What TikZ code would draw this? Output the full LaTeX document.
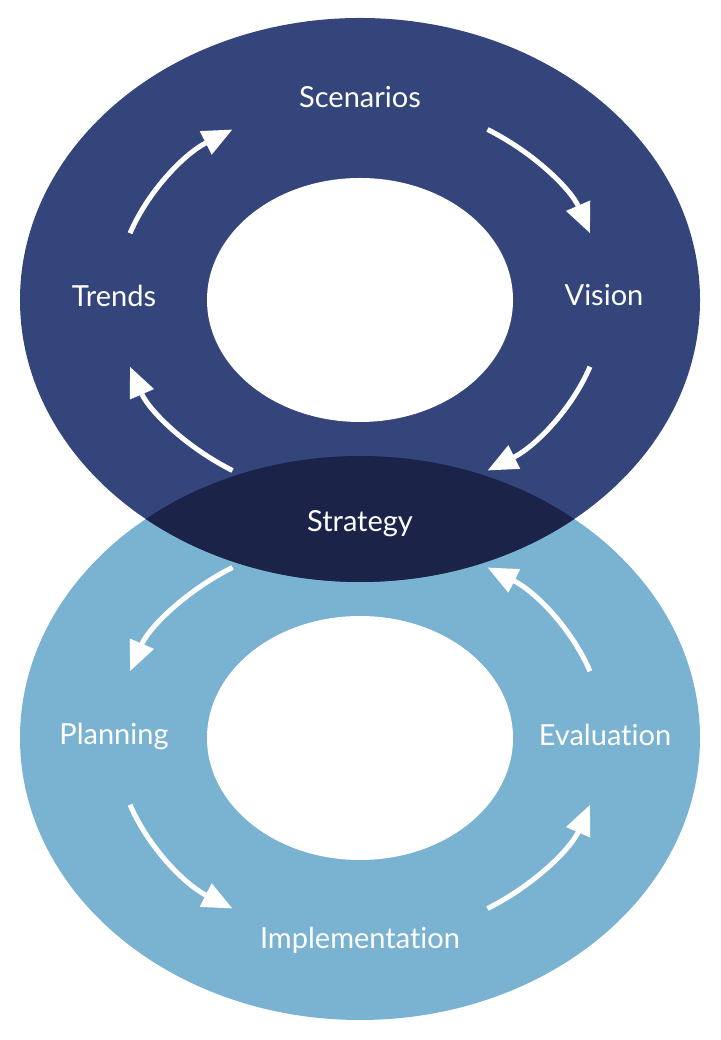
\documentclass[tikz,border=0pt]{standalone}
\usepackage{fontspec}
\setmainfont{Lato}[Ligatures={NoCommon,NoContextual}]
\usepackage{xcolor}
\usetikzlibrary{arrows.meta,calc}
\definecolor{navy}{HTML}{33457B}
\definecolor{deepnavy}{HTML}{1B2448}
\definecolor{skyblue}{HTML}{7AB3D2}

\begin{document}
\begin{tikzpicture}[x=1pt,y=1pt,
  lbl/.style={text=white,anchor=base,inner sep=0pt,font=\fontsize{29}{34}\selectfont},
  flow/.style={-{Triangle[length=30pt,width=25pt]},white,line width=5pt},
  ring/.style={x radius=340,y radius=282},
  hole/.style={x radius=153,y radius=122}
]
\useasboundingbox (0,0) rectangle (720,1040);
\coordinate (up) at (360,740);
\coordinate (down) at (360,302);
% the two rings and their overlap
\fill[skyblue] (down) ellipse[ring];
\fill[navy] (up) ellipse[ring];
\begin{scope}
  \clip (up) ellipse[ring];
  \fill[deepnavy] (down) ellipse[ring];
\end{scope}
\fill[white] (up) ellipse[hole];
\fill[white] (down) ellipse[hole];
% labels
\node[lbl] (scen) at (360,932.7) {Scenarios};
\node[lbl] (trends) at (114,733.3) {Trends};
\node[lbl] (vision) at (604,734) {Vision};
\node[lbl] (strat) at (360,508.3) {Strategy};
\node[lbl] (plan) at (114,295) {Planning};
\node[lbl] (eval) at (605,294.5) {Evaluation};
\node[lbl] (impl) at (360,91.3) {Implementation};
% arrows, on the middle line of each ring
\coordinate (t1) at ($(up)+(160.5:244 and 200)$);
\coordinate (t2) at ($(up)+(58.5:244 and 200)$);
\coordinate (t3) at ($(up)+(-19.5:244 and 200)$);
\coordinate (t4) at ($(up)+(238.5:244 and 200)$);
\coordinate (b1) at ($(down)+(121.5:244 and 200)$);
\coordinate (b2) at ($(down)+(199.5:244 and 200)$);
\coordinate (b3) at ($(down)+(301.5:244 and 200)$);
\coordinate (b4) at ($(down)+(19.5:244 and 200)$);
\draw[flow] (t1) arc[start angle=160.5,end angle=121.5,x radius=244,y radius=200];
\draw[flow] (t2) arc[start angle=58.5,end angle=19.5,x radius=244,y radius=200];
\draw[flow] (t3) arc[start angle=-19.5,end angle=-58.5,x radius=244,y radius=200];
\draw[flow] (t4) arc[start angle=238.5,end angle=199.5,x radius=244,y radius=200];
\draw[flow] (b1) arc[start angle=121.5,end angle=160.5,x radius=244,y radius=200];
\draw[flow] (b2) arc[start angle=199.5,end angle=238.5,x radius=244,y radius=200];
\draw[flow] (b3) arc[start angle=301.5,end angle=340.5,x radius=244,y radius=200];
\draw[flow] (b4) arc[start angle=19.5,end angle=58.5,x radius=244,y radius=200];
\end{tikzpicture}
\end{document}
